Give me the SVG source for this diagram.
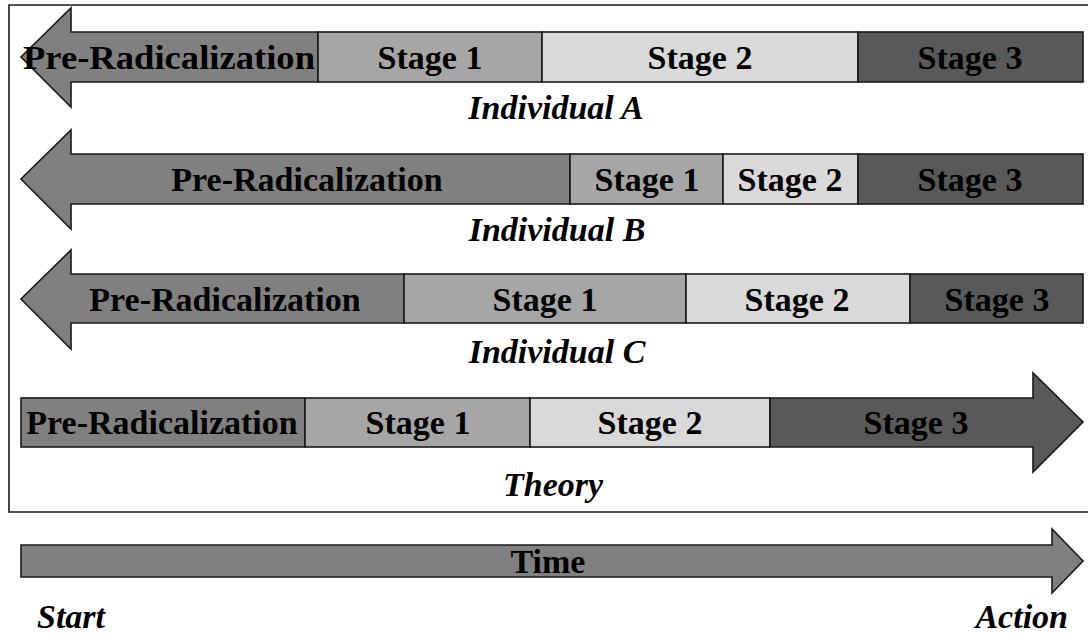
<svg xmlns="http://www.w3.org/2000/svg" width="1088" height="637" viewBox="0 0 1088 637">
<style>
.s{stroke:#1a1a1a;stroke-width:1.6;stroke-linejoin:miter}
.pre{fill:#808080}
.s1{fill:#a6a6a6}
.s2{fill:#d9d9d9}
.s3{fill:#595959}
.t{font-family:"Liberation Serif","Times New Roman",serif;font-weight:bold;font-size:34px;fill:#000;text-anchor:middle}
.i{font-style:italic}
</style>
<rect width="1088" height="637" fill="#fff"/>
<path id="frame" d="M1095 5 H9 V512 H1095" fill="none" stroke="#1a1a1a" stroke-width="1.6"/>
<g id="rowA">
<polygon class="s pre" points="318,32 71,32 71,8 21,57 71,107 71,82 318,82"/>
<rect class="s s1" x="318" y="32" width="224" height="50"/>
<rect class="s s2" x="542" y="32" width="316" height="50"/>
<rect class="s s3" x="858" y="32" width="225" height="50"/>
<text class="t" x="169" y="69" textLength="292" lengthAdjust="spacingAndGlyphs">Pre-Radicalization</text>
<text class="t" x="430" y="69">Stage 1</text>
<text class="t" x="700" y="69">Stage 2</text>
<text class="t" x="970" y="69">Stage 3</text>
<text class="t i" x="556" y="119">Individual A</text>
</g>
<g id="rowB">
<polygon class="s pre" points="570,154 71,154 71,130 21,179 71,229 71,204 570,204"/>
<rect class="s s1" x="570" y="154" width="153" height="50"/>
<rect class="s s2" x="723" y="154" width="135" height="50"/>
<rect class="s s3" x="858" y="154" width="225" height="50"/>
<text class="t" x="307" y="191">Pre-Radicalization</text>
<text class="t" x="647" y="191">Stage 1</text>
<text class="t" x="790" y="191">Stage 2</text>
<text class="t" x="970" y="191">Stage 3</text>
<text class="t i" x="557" y="241">Individual B</text>
</g>
<g id="rowC">
<polygon class="s pre" points="404,274 71,274 71,250 21,299 71,349 71,323 404,323"/>
<rect class="s s1" x="404" y="274" width="282" height="49"/>
<rect class="s s2" x="686" y="274" width="224" height="49"/>
<rect class="s s3" x="910" y="274" width="173" height="49"/>
<text class="t" x="225" y="311">Pre-Radicalization</text>
<text class="t" x="545" y="311">Stage 1</text>
<text class="t" x="797" y="311">Stage 2</text>
<text class="t" x="997" y="311">Stage 3</text>
<text class="t i" x="557" y="363">Individual C</text>
</g>
<g id="theory">
<rect class="s pre" x="21" y="398" width="284" height="49"/>
<rect class="s s1" x="305" y="398" width="225" height="49"/>
<rect class="s s2" x="530" y="398" width="240" height="49"/>
<polygon class="s s3" points="770,398 1033,398 1033,373 1083,422 1033,472 1033,447 770,447"/>
<text class="t" x="162" y="434">Pre-Radicalization</text>
<text class="t" x="418" y="434">Stage 1</text>
<text class="t" x="650" y="434">Stage 2</text>
<text class="t" x="916" y="434">Stage 3</text>
<text class="t i" x="553" y="496">Theory</text>
</g>
<g id="time">
<polygon class="s pre" points="21,545 1052,545 1052,529 1083,561 1052,593 1052,577 21,577"/>
<text class="t" x="548" y="573">Time</text>
</g>
<text class="t i" x="37" y="628" style="text-anchor:start">Start</text>
<text class="t i" x="1068" y="628" style="text-anchor:end">Action</text>
</svg>
